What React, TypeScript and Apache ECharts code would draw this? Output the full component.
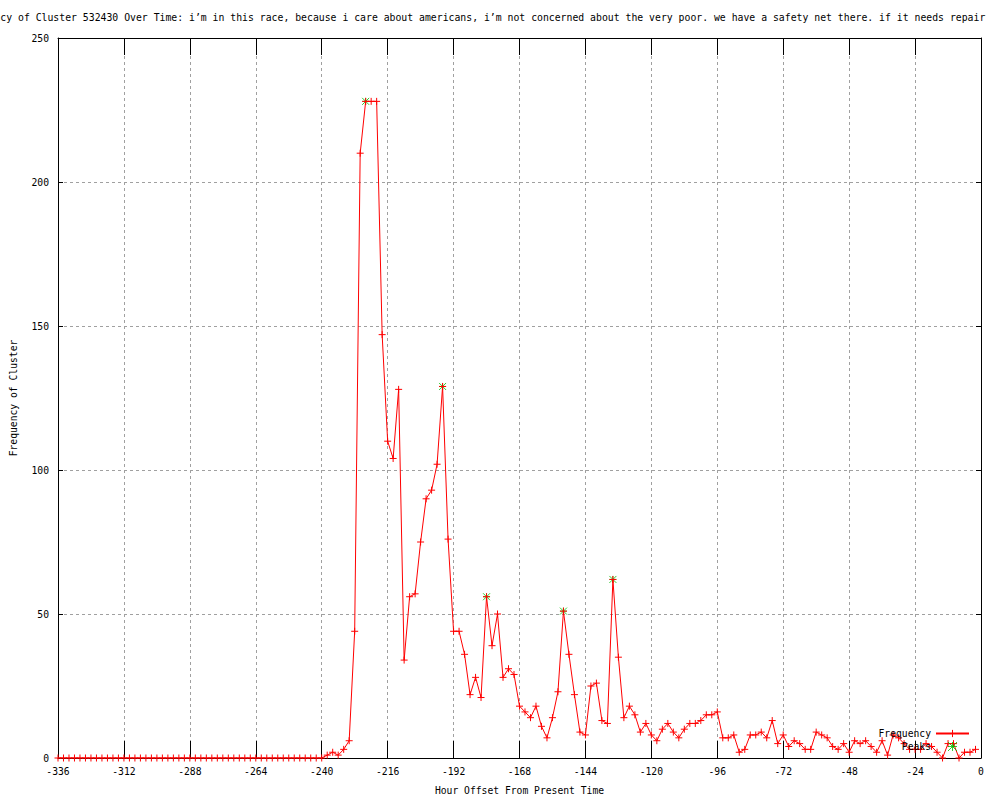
import React, { useEffect, useRef } from "react";
import * as echarts from "echarts";

const titleText =
  "Frequency of Cluster 532430 Over Time: i’m in this race, because i care about americans, i’m not concerned about the very poor. we have a safety net there. if it needs repair";
const xName = "Hour Offset From Present Time";
const yName = "Frequency of Cluster";

const startHour = -336;
const stepHours = 2;

// Frequency every 2 hours from -336 to -2
const frequency: number[] = [
  // -336 .. -240
  0, 0, 0, 0, 0, 0, 0, 0, 0, 0, 0, 0, 0, 0, 0, 0, 0, 0, 0, 0, 0, 0, 0, 0, 0,
  0, 0, 0, 0, 0, 0, 0, 0, 0, 0, 0, 0, 0, 0, 0, 0, 0, 0, 0, 0, 0, 0, 0, 0,
  // -238 .. -220
  1, 2, 1, 3, 6, 44, 210, 228, 228, 228,
  // -218 .. -200
  147, 110, 104, 128, 34, 56, 57, 75, 90, 93,
  // -198 .. -180
  102, 129, 76, 44, 44, 36, 22, 28, 21, 56,
  // -178 .. -160
  39, 50, 28, 31, 29, 18, 16, 14, 18, 11,
  // -158 .. -140
  7, 14, 23, 51, 36, 22, 9, 8, 25, 26,
  // -138 .. -120
  13, 12, 62, 35, 14, 18, 15, 9, 12, 8,
  // -118 .. -100
  6, 10, 12, 9, 7, 10, 12, 12, 13, 15,
  // -98 .. -80
  15, 16, 7, 7, 8, 2, 3, 8, 8, 9,
  // -78 .. -60
  7, 13, 5, 8, 4, 6, 5, 3, 3, 9,
  // -58 .. -40
  8, 7, 4, 3, 5, 2, 6, 5, 6, 4,
  // -38 .. -20
  2, 6, 1, 8, 7, 5, 3, 3, 3, 5,
  // -18 .. -2
  4, 2, 0, 5, 5, 0, 2, 2, 3,
];

const peakHours: number[] = [-224, -196, -180, -152, -134];
const peakValues: number[] = [228, 129, 56, 51, 62];

const xTicks = { min: -336, max: 0, interval: 24 };
const yTicks = { min: 0, max: 250, interval: 50 };

const FONT = "DejaVu Sans Mono";
const FS = 9.7;

const plusPath = "path://M3.5,0L3.5,7M0,3.5L7,3.5";
const starPath = "path://M0,0L7,7M7,0L0,7M3.5,0L3.5,7M0,3.5L7,3.5";

export default function App() {
  const ref = useRef<HTMLDivElement>(null);

  useEffect(() => {
    if (!ref.current) return;
    const chart = echarts.init(ref.current, null, { renderer: "svg" });

    const freqData = frequency.map((v, i) => [startHour + i * stepHours, v]);
    const peakData = peakHours.map((h, i) => [h, peakValues[i]]);

    const textStyle = { fontFamily: FONT, fontSize: FS, color: "#000" };

    chart.setOption({
      animation: false,
      backgroundColor: "#fff",
      title: {
        text: titleText,
        left: -41,
        top: 12,
        padding: 0,
        textStyle: { fontFamily: FONT, fontSize: 9.8, color: "#000", fontWeight: "normal" },
      },
      grid: { left: 56, right: 19, top: 38, bottom: 40, containLabel: false },
      legend: {
        data: ["Frequency", "Peaks"],
        orient: "vertical",
        right: 30,
        bottom: 47,
        padding: 0,
        align: "right",
        itemWidth: 33,
        itemHeight: 9,
        itemGap: 0,
        selectedMode: false,
        itemStyle: { borderWidth: 1 },
        textStyle: { ...textStyle, lineHeight: 13 },
      },
      xAxis: [
        {
          type: "value",
          position: "bottom",
          min: xTicks.min,
          max: xTicks.max,
          interval: xTicks.interval,
          name: xName,
          nameLocation: "middle",
          nameGap: 27,
          nameTextStyle: textStyle,
          axisLine: { show: true, onZero: false, lineStyle: { color: "#000", width: 1 } },
          axisTick: { show: true, inside: true, length: 17, lineStyle: { color: "#000", width: 1 } },
          axisLabel: { ...textStyle, margin: 8, showMinLabel: true, showMaxLabel: true },
          splitLine: { show: true, lineStyle: { color: "#a0a0a0", width: 1, type: [3, 3] } },
        },
        {
          type: "value",
          position: "top",
          min: xTicks.min,
          max: xTicks.max,
          interval: xTicks.interval,
          axisLine: { show: true, onZero: false, lineStyle: { color: "#000", width: 1 } },
          axisTick: { show: true, inside: true, length: 17, lineStyle: { color: "#000", width: 1 } },
          axisLabel: { show: false },
          splitLine: { show: false },
        },
      ],
      yAxis: [
        {
          type: "value",
          position: "left",
          min: yTicks.min,
          max: yTicks.max,
          interval: yTicks.interval,
          name: yName,
          nameLocation: "middle",
          nameGap: 40,
          nameRotate: 90,
          nameTextStyle: textStyle,
          axisLine: { show: true, onZero: false, lineStyle: { color: "#000", width: 1 } },
          axisTick: { show: true, inside: true, length: 5, lineStyle: { color: "#000", width: 1 } },
          axisLabel: { ...textStyle, margin: 9 },
          splitLine: { show: true, lineStyle: { color: "#a0a0a0", width: 1, type: [3, 3] } },
        },
        {
          type: "value",
          position: "right",
          min: yTicks.min,
          max: yTicks.max,
          interval: yTicks.interval,
          axisLine: { show: true, onZero: false, lineStyle: { color: "#000", width: 1 } },
          axisTick: { show: true, inside: true, length: 5, lineStyle: { color: "#000", width: 1 } },
          axisLabel: { show: false },
          splitLine: { show: false },
        },
      ],
      series: [
        {
          name: "Frequency",
          type: "line",
          xAxisIndex: 0,
          yAxisIndex: 0,
          data: freqData,
          z: 3,
          symbol: plusPath,
          symbolSize: 7,
          showAllSymbol: true,
          lineStyle: { color: "#ff0000", width: 1 },
          itemStyle: { color: "#ff0000", borderColor: "#ff0000", borderWidth: 1 },
          emphasis: { disabled: true },
          silent: true,
        },
        {
          name: "Peaks",
          type: "scatter",
          xAxisIndex: 0,
          yAxisIndex: 0,
          data: peakData,
          z: 2,
          symbol: starPath,
          symbolSize: 7,
          itemStyle: { color: "#00c000", borderColor: "#00c000", borderWidth: 1 },
          emphasis: { disabled: true },
          silent: true,
        },
      ],
    });

    return () => chart.dispose();
  }, []);

  return (
    <div
      ref={ref}
      style={{ position: "fixed", left: 0, top: 0, width: 1000, height: 800, background: "#fff" }}
    />
  );
}
